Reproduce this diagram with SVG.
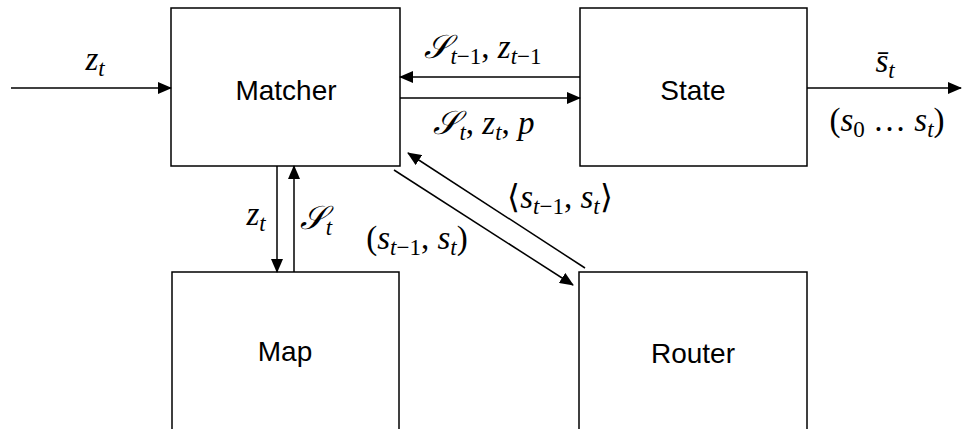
<svg xmlns="http://www.w3.org/2000/svg" width="965" height="429" viewBox="0 0 965 429">
<style>
.box{fill:#fff;stroke:#000;stroke-width:1.5}
.lbl{font-family:"Liberation Sans",Arial,sans-serif;font-size:28px;text-anchor:middle;fill:#000}
.m{font-family:"Liberation Serif","Times New Roman",serif;font-size:33px;font-style:italic;fill:#000;text-anchor:middle}
.r{font-style:normal}
.sub{font-size:23px}
.edge{stroke:#000;stroke-width:1.5;fill:none;marker-end:url(#ah)}
</style>
<defs>
<marker id="ah" markerWidth="14" markerHeight="12" refX="13" refY="6" orient="auto" markerUnits="userSpaceOnUse">
<path d="M0,0 L14,6 L0,12 Z" fill="#000"/>
</marker>
</defs>
<g id="matcher"><rect class="box" x="171" y="8" width="229" height="158"/><text class="lbl" x="286" y="100">Matcher</text></g>
<g id="state"><rect class="box" x="580" y="8" width="227" height="158"/><text class="lbl" x="693" y="100">State</text></g>
<g id="map"><rect class="box" x="172" y="272" width="227" height="162"/><text class="lbl" x="285" y="361">Map</text></g>
<g id="router"><rect class="box" x="579" y="272" width="228" height="162"/><text class="lbl" x="693" y="363">Router</text></g>
<g id="connectors">
<line class="edge" x1="11" y1="88" x2="171" y2="88"/>
<line class="edge" x1="580" y1="77" x2="400" y2="77"/>
<line class="edge" x1="400" y1="98" x2="580" y2="98"/>
<line class="edge" x1="807" y1="88" x2="961" y2="88"/>
<line class="edge" x1="277" y1="166" x2="277" y2="272"/>
<line class="edge" x1="294" y1="272" x2="294" y2="166"/>
<line class="edge" x1="394" y1="170" x2="573" y2="285"/>
<line class="edge" x1="585" y1="268" x2="408" y2="153"/>
</g>
<g id="labels">
<text class="m" x="95" y="70">z<tspan class="sub" dy="6">t</tspan></text>
<text class="m" x="483" y="58">𝒮<tspan class="sub" dy="6">t<tspan class="r">−1</tspan></tspan><tspan dy="-6" class="r">, </tspan>z<tspan class="sub" dy="6">t<tspan class="r">−1</tspan></tspan></text>
<text class="m" x="484" y="134">𝒮<tspan class="sub" dy="6">t</tspan><tspan dy="-6" class="r">, </tspan>z<tspan class="sub" dy="6">t</tspan><tspan dy="-6" class="r">, </tspan>p</text>
<text class="m" x="885" y="72">s̄<tspan class="sub" dy="6">t</tspan></text>
<text class="m" x="887" y="131"><tspan class="r">(</tspan>s<tspan class="sub r" dy="6">0</tspan><tspan dy="-6" class="r"> … </tspan>s<tspan class="sub" dy="6">t</tspan><tspan dy="-6" class="r">)</tspan></text>
<text class="m" x="256" y="225">z<tspan class="sub" dy="6">t</tspan></text>
<text class="m" x="316" y="229">𝒮<tspan class="sub" dy="6">t</tspan></text>
<text class="m" x="417" y="249"><tspan class="r">(</tspan>s<tspan class="sub" dy="6">t<tspan class="r">−1</tspan></tspan><tspan dy="-6" class="r">, </tspan>s<tspan class="sub" dy="6">t</tspan><tspan dy="-6" class="r">)</tspan></text>
<text class="m" x="560" y="208"><tspan class="r">⟨</tspan>s<tspan class="sub" dy="6">t<tspan class="r">−1</tspan></tspan><tspan dy="-6" class="r">, </tspan>s<tspan class="sub" dy="6">t</tspan><tspan dy="-6" class="r">⟩</tspan></text>
</g>
</svg>
